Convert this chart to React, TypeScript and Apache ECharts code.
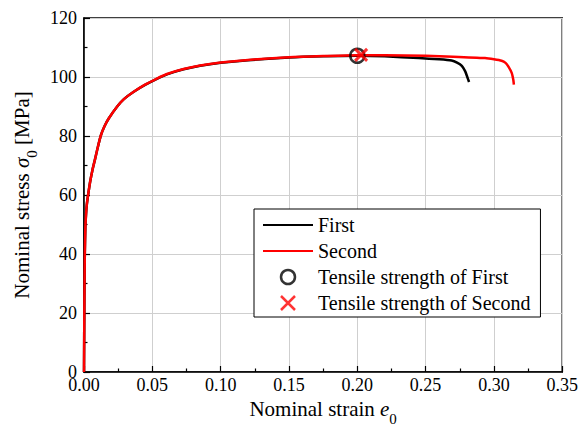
import React, { useEffect, useRef } from "react";
import * as echarts from "echarts";

const firstStrain = [0, 0.0003, 0.0006, 0.001, 0.0015, 0.002, 0.003, 0.0045, 0.0062, 0.008, 0.01, 0.0122, 0.015, 0.0182, 0.0243, 0.0292, 0.0364, 0.045, 0.053, 0.0607, 0.0729, 0.085, 0.1, 0.12, 0.15, 0.175, 0.2, 0.22, 0.245, 0.26, 0.269, 0.273, 0.2765, 0.279, 0.2805, 0.2818];
const firstStress = [0, 25, 40, 49, 53.5, 56.5, 60, 64.5, 68.5, 72, 76, 80, 83.3, 86, 90, 92.5, 95, 97.4, 99.3, 100.9, 102.6, 103.8, 104.8, 105.7, 106.6, 107.0, 107.2, 107.0, 106.4, 106.0, 105.6, 104.9, 103.8, 101.9, 100.0, 98.3];

const secondStrain = [0, 0.0003, 0.0006, 0.001, 0.0015, 0.002, 0.003, 0.0045, 0.0062, 0.008, 0.01, 0.0122, 0.015, 0.0182, 0.0243, 0.0292, 0.0364, 0.045, 0.053, 0.0607, 0.0729, 0.085, 0.1, 0.12, 0.15, 0.175, 0.2, 0.22, 0.25, 0.27, 0.2935, 0.3, 0.3056, 0.3085, 0.3105, 0.313, 0.3142, 0.3146];
const secondStress = [0, 25, 40, 49, 53.5, 56.5, 60, 64.5, 68.5, 72, 76, 80, 83.3, 86, 90, 92.5, 95, 97.5, 99.4, 101.0, 102.7, 103.9, 104.9, 105.8, 106.7, 107.1, 107.4, 107.4, 107.2, 106.9, 106.4, 106.0, 105.5, 104.8, 103.6, 101.4, 99.0, 97.4];

const tensileFirst = [0.2, 107.2];
const tensileSecond = [0.2028, 107.5];

const seriesNames = ["First", "Second", "Tensile strength of First", "Tensile strength of Second"];
const xTicks = [0, 0.05, 0.1, 0.15, 0.2, 0.25, 0.3, 0.35];
const yTicks = [0, 20, 40, 60, 80, 100, 120];

const FONT = "Liberation Serif, Times New Roman, serif";

const subRich = {
  n: { fontFamily: FONT, fontSize: 21, color: "#000", lineHeight: 24, verticalAlign: "top" },
  i: { fontFamily: FONT, fontSize: 21, fontStyle: "italic", color: "#000", lineHeight: 24, verticalAlign: "top" },
  s: { fontFamily: FONT, fontSize: 15, color: "#000", lineHeight: 15, padding: [13, 0, 0, 0], verticalAlign: "top" },
};

export default function App() {
  const ref = useRef<HTMLDivElement>(null);
  useEffect(() => {
    if (!ref.current) return;
    const chart = echarts.init(ref.current, null, { renderer: "svg" });
    const firstData = firstStrain.map((x, i) => [x, firstStress[i]]);
    const secondData = secondStrain.map((x, i) => [x, secondStress[i]]);
    const hiddenSym = { color: "rgba(0,0,0,0)", borderColor: "rgba(0,0,0,0)", borderWidth: 0, opacity: 0 };
    chart.setOption({
      animation: false,
      textStyle: { fontFamily: FONT },
      grid: {
        left: 84,
        top: 18,
        right: 18,
        bottom: 63,
        show: true,
        borderColor: "#000",
        borderWidth: 1.5,
        backgroundColor: "transparent",
      },
      legend: {
        orient: "vertical",
        left: 254,
        top: 209,
        padding: [6, 10, 4, 8],
        itemWidth: 50,
        itemHeight: 14,
        itemGap: 6,
        borderColor: "#000",
        borderWidth: 1,
        backgroundColor: "#fff",
        borderRadius: 0,
        data: [
          { name: seriesNames[0], itemStyle: hiddenSym, lineStyle: { color: "#000", width: 2 } },
          { name: seriesNames[1], itemStyle: hiddenSym, lineStyle: { color: "#ff0000", width: 2 } },
          { name: seriesNames[2], itemStyle: { color: "rgba(0,0,0,0)", borderColor: "#000", borderWidth: 2.5 } },
          { name: seriesNames[3], itemStyle: { color: "rgba(0,0,0,0)", borderColor: "#ff0000", borderWidth: 2.5 } },
        ],
        textStyle: { fontFamily: FONT, fontSize: 20, color: "#000" },
      },
      xAxis: {
        type: "value",
        min: xTicks[0],
        max: xTicks[xTicks.length - 1],
        interval: 0.05,
        name: "{n|Nominal strain }{i|e}{s|0}",
        nameLocation: "middle",
        nameGap: 23,
        nameTextStyle: { fontFamily: FONT, rich: subRich },
        axisLine: { show: true, onZero: false, lineStyle: { color: "#000", width: 1.5 } },
        axisTick: { show: true, inside: true, length: 6, lineStyle: { color: "#000", width: 1.2 } },
        minorTick: { show: true, splitNumber: 2, length: 3.5, lineStyle: { color: "#000", width: 1.2 } },
        axisLabel: {
          fontFamily: FONT,
          fontSize: 18,
          color: "#000",
          margin: 4,
          formatter: (v: number) => v.toFixed(2),
        },
        splitLine: { show: true, lineStyle: { color: "#cfcfcf", width: 1 } },
      },
      yAxis: {
        type: "value",
        min: yTicks[0],
        max: yTicks[yTicks.length - 1],
        interval: 20,
        name: "{n|Nominal stress }{i|σ}{s|0}{n| [MPa]}",
        nameLocation: "middle",
        nameGap: 46,
        nameRotate: 90,
        nameTextStyle: { fontFamily: FONT, rich: subRich },
        axisLine: { show: true, onZero: false, lineStyle: { color: "#000", width: 1.5 } },
        axisTick: { show: true, inside: true, length: 6, lineStyle: { color: "#000", width: 1.2 } },
        minorTick: { show: true, splitNumber: 2, length: 3.5, lineStyle: { color: "#000", width: 1.2 } },
        axisLabel: { fontFamily: FONT, fontSize: 18, color: "#000", margin: 7 },
        splitLine: { show: true, lineStyle: { color: "#cfcfcf", width: 1 } },
      },
      series: [
        {
          name: seriesNames[0],
          type: "line",
          data: firstData,
          symbol: "none",
          smooth: 0.2,
          lineStyle: { color: "#000", width: 2.5 },
          itemStyle: { color: "#000" },
          z: 2,
        },
        {
          name: seriesNames[1],
          type: "line",
          data: secondData,
          symbol: "none",
          smooth: 0.2,
          lineStyle: { color: "#ff0000", width: 2.5 },
          itemStyle: { color: "#ff0000" },
          z: 3,
        },
        {
          name: seriesNames[2],
          type: "scatter",
          data: [tensileFirst],
          symbol: "circle",
          symbolSize: 14,
          itemStyle: { color: "rgba(0,0,0,0)", borderColor: "#000", borderWidth: 2.5 },
          z: 4,
        },
        {
          name: seriesNames[3],
          type: "scatter",
          data: [tensileSecond],
          symbol: "path://M0,0L10,10M10,0L0,10",
          symbolSize: 12,
          itemStyle: { color: "rgba(0,0,0,0)", borderColor: "#ff0000", borderWidth: 3 },
          z: 5,
        },
      ],
    });
    return () => chart.dispose();
  }, []);
  return (
    <div
      ref={ref}
      style={{ width: 581, height: 435, position: "absolute", left: 0, top: 0, fontFamily: "Liberation Serif, serif" }}
    />
  );
}
